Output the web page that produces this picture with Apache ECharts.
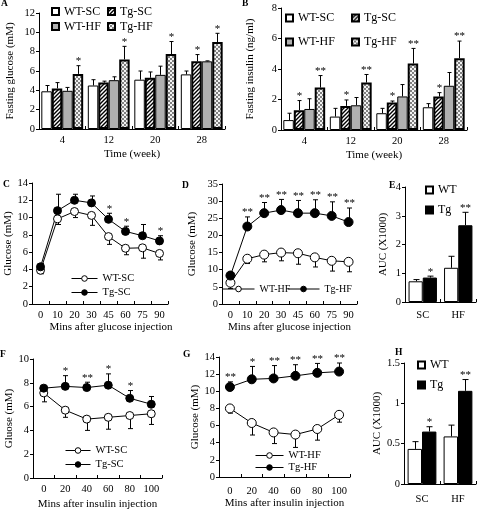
<!DOCTYPE html>
<html><head><meta charset="utf-8">
<script src="https://cdn.jsdelivr.net/npm/echarts@6/dist/echarts.min.js"></script>
<style>html,body{margin:0;padding:0;background:#fff}#c{width:477px;height:511px}</style>
</head><body><div id="c"></div>
<script>
// ---------- data ----------
const weeks = ['4','12','20','28'];
const A_WT_SC = [3.9, 4.5, 5.1, 5.65];   const A_WT_SC_err = [0.6, 0.6, 0.9, 0.35];
const A_Tg_SC = [4.2, 4.8, 5.3, 7.0];    const A_Tg_SC_err = [0.6, 0.15, 0.6, 0.7];
const A_WT_HF = [3.95, 5.05, 5.6, 7.0];  const A_WT_HF_err = [0.35, 0.35, 0.9, 0.05];
const A_Tg_HF = [5.7, 7.2, 7.75, 9.0];   const A_Tg_HF_err = [0.85, 1.35, 1.3, 0.9];
const A_Tg_SC_sig = ['', '', '', '*'];
const A_Tg_HF_sig = ['*', '*', '*', '*'];

const B_WT_SC = [0.65, 0.88, 1.1, 1.49]; const B_WT_SC_err = [0.45, 0.54, 0.32, 0.24];
const B_Tg_SC = [1.3, 1.58, 1.8, 2.19];  const B_Tg_SC_err = [0.63, 0.39, 0.1, 0.26];
const B_WT_HF = [1.38, 1.62, 2.2, 2.9];  const B_WT_HF_err = [0.67, 0.51, 0.78, 0.87];
const B_Tg_HF = [2.78, 3.11, 4.36, 4.71];const B_Tg_HF_err = [0.79, 0.53, 0.99, 1.12];
const B_Tg_SC_sig = ['*', '*', '*', '*'];
const B_Tg_HF_sig = ['**', '**', '**', '**'];

const gttMins = ['0','10','20','30','45','60','75','90'];
const C_WT_SC = [3.9, 9.85, 10.7, 10.25, 7.8, 6.45, 6.5, 5.85];
const C_WT_SC_err = [0.4, 0.65, 0.7, 1.15, 0.9, 0.75, 1.2, 0.75];
const C_Tg_SC = [4.3, 10.8, 12.0, 11.7, 9.8, 8.4, 7.9, 7.3];
const C_Tg_SC_err = [0.4, 1.9, 0.7, 0.8, 0.7, 0.6, 1.3, 0.6];
const C_sig = ['', '', '', '', '*', '*', '', '*'];

const D_WT_HF = [6.2, 13.2, 14.4, 15.0, 14.8, 13.6, 12.6, 12.3];
const D_WT_HF_err = [1.7, 1.4, 2.1, 2.4, 3.2, 2.8, 3.0, 2.9];
const D_Tg_HF = [8.3, 22.6, 26.5, 27.4, 26.5, 26.5, 25.7, 23.9];
const D_Tg_HF_err = [0.9, 2.8, 3.1, 3.1, 3.7, 3.9, 4.1, 4.1];
const D_sig = ['', '**', '**', '**', '**', '**', '**', '**'];

const dietCats = ['SC', 'HF'];
const E_WT = [0.72, 1.19]; const E_WT_err = [0.06, 0.4];
const E_Tg = [0.85, 2.67]; const E_Tg_err = [0.05, 0.45];
const E_sig = ['*', '**'];

const ittMins = ['0','20','40','60','80','100'];
const F_WT_SC = [7.15, 5.7, 4.95, 5.1, 5.25, 5.4];
const F_WT_SC_err = [0.75, 0.6, 0.95, 1.0, 1.1, 0.9];
const F_Tg_SC = [7.55, 7.7, 7.6, 7.8, 6.7, 6.2];
const F_Tg_SC_err = [0.1, 0.9, 0.45, 0.95, 0.65, 0.65];
const F_sig = ['', '*', '**', '*', '*', ''];

const G_WT_HF = [8.0, 6.3, 5.2, 4.95, 5.6, 7.25];
const G_WT_HF_err = [0.55, 1.4, 1.3, 1.5, 1.3, 0.85];
const G_Tg_HF = [10.5, 11.4, 11.5, 11.8, 12.15, 12.3];
const G_Tg_HF_err = [0.6, 1.5, 1.5, 1.3, 1.1, 1.0];
const G_sig = ['**', '*', '**', '**', '**', '**'];

const H_WT = [0.435, 0.59]; const H_WT_err = [0.09, 0.14];
const H_Tg = [0.65, 1.155]; const H_Tg_err = [0.06, 0.14];
const H_sig = ['*', '**'];

// ---------- styles ----------
const FONT = '"Liberation Serif", "Times New Roman", serif';
function makeHatch(){
  const c=document.createElement('canvas'); c.width=4; c.height=4;
  const g=c.getContext('2d'); g.fillStyle='#fff'; g.fillRect(0,0,4,4);
  g.strokeStyle='#000'; g.lineWidth=1.4; g.beginPath();
  g.moveTo(0,4); g.lineTo(4,0); g.moveTo(-1,1); g.lineTo(1,-1); g.moveTo(3,5); g.lineTo(5,3);
  g.stroke(); return c;
}
function makeChecker(){
  const c=document.createElement('canvas'); c.width=4; c.height=4;
  const g=c.getContext('2d'); g.fillStyle='#f2f2f2'; g.fillRect(0,0,4,4);
  g.fillStyle='#808080'; g.fillRect(0,0,2,2); g.fillRect(2,2,2,2); return c;
}
const hatch = {image: makeHatch(), repeat: 'repeat'};
const checker = {image: makeChecker(), repeat: 'repeat'};
const sWT_SC = {color:'#fff', borderColor:'#000', borderWidth:1};
const sTg_SC = {color:hatch, borderColor:'#000', borderWidth:2};
const sWT_HF = {color:'#b0b0b0', borderColor:'#000', borderWidth:1};
const sTg_HF = {color:checker, borderColor:'#000', borderWidth:2};
const sTg = {color:'#000', borderColor:'#000', borderWidth:1};

const GAP = 0.1, GAP2 = 0.2;

// ---------- builders ----------
function bar(name, gi, data, style, gap){
  return {type:'bar', name, xAxisIndex:gi, yAxisIndex:gi, data, itemStyle:style,
          barGap:'0%', barCategoryGap:(gap*100)+'%', z:2};
}
function err(gi, means, errs, sig, idx, n, gap, dir, cap, fs){
  return {type:'custom', xAxisIndex:gi, yAxisIndex:gi, z: dir>0 ? 3 : 1, silent:true,
    data: means.map((m,i)=>[i, m, m + dir*errs[i]]),
    renderItem: function(p, api){
      const i = api.value(0);
      const band = api.size([1,0])[0];
      let off = 0;
      if (n) { const bw = band*(1-gap)/n; off = -band*(1-gap)/2 + (idx+0.5)*bw; }
      const a = api.coord([i, api.value(1)]);
      const b = api.coord([i, api.value(2)]);
      const x = Math.round(a[0]+off)+0.5;
      const ch = [
        {type:'line', shape:{x1:x, y1:a[1], x2:x, y2:b[1]}, style:{stroke:'#000', lineWidth:1}},
        {type:'line', shape:{x1:x-cap/2, y1:b[1], x2:x+cap/2, y2:b[1]}, style:{stroke:'#000', lineWidth:1}}
      ];
      const s = sig && sig[p.dataIndex];
      if (s) ch.push({type:'text', style:{text:s, x:x, y:b[1]+1, align:'center', verticalAlign:'bottom',
                       font:(fs||11)+'px '+FONT, fill:'#000'}});
      return {type:'group', children:ch};
    }};
}
function line(name, gi, data, filled, size){
  return {type:'line', name, xAxisIndex:gi, yAxisIndex:gi, data, symbol:'circle', symbolSize:size,
    lineStyle:{color:'#000', width:1}, z:2,
    itemStyle: filled ? {color:'#000', borderColor:'#000', borderWidth:1}
                      : {color:'#fff', borderColor:'#000', borderWidth:1}};
}
function yA(gi, max, interval, name, gap){
  return {type:'value', gridIndex:gi, min:0, max, interval, name, nameLocation:'middle', nameGap:gap,
    nameRotate:90, nameTextStyle:{fontSize:11, fontFamily:FONT, color:'#000', fontWeight:'normal'},
    axisLine:{show:true, lineStyle:{color:'#000', width:1}},
    axisTick:{show:true, length:3, lineStyle:{color:'#000'}},
    splitLine:{show:false},
    axisLabel:{fontSize:10.5, fontFamily:FONT, color:'#000', margin:4, fontWeight:'normal'}};
}
function xA(gi, cats, name, gap, margin, pad){
  return {type:'category', gridIndex:gi, data:cats, name, nameLocation:'middle', nameGap:gap,
    nameTextStyle:{fontSize:11, fontFamily:FONT, color:'#000', fontWeight:'normal', padding:pad||0},
    axisLine:{show:true, lineStyle:{color:'#000', width:1}},
    axisTick:{show:true, inside:true, length:3, lineStyle:{color:'#000'}},
    splitLine:{show:false},
    axisLabel:{fontSize:10.5, fontFamily:FONT, color:'#000', margin, fontWeight:'normal'}};
}
function leg(name, left, top, iw, ih, fs, icon){
  const o = {data:[name], left, top, padding:0, itemWidth:iw, itemHeight:ih, itemGap:0,
    selectedMode:false, formatter: n => n.split('|')[1],
    textStyle:{fontSize:fs, fontFamily:FONT, color:'#000', fontWeight:'normal'}};
  if (icon) o.icon = icon;
  else { o.lineStyle = {width:1}; o.itemStyle = {borderWidth:1}; }
  return o;
}
function letter(t, x, y){
  return {type:'text', left:x, top:y, style:{text:t, font:'bold 9.5px '+FONT, fill:'#000'}};
}

const grids = [
  {left:39,  top:13,  width:186, height:116},  // A
  {left:281, top:8,   width:186, height:122},  // B
  {left:32,  top:183, width:136, height:121},  // C
  {left:222, top:184, width:135, height:120},  // D
  {left:405, top:187, width:71,  height:115},  // E
  {left:33,  top:359, width:129, height:119},  // F
  {left:219, top:357, width:131, height:120},  // G
  {left:404, top:363, width:72,  height:121}   // H
];

const option = {
  animation:false,
  backgroundColor:'#fff',
  textStyle:{fontFamily:FONT, color:'#000'},
  grid: grids,
  xAxis: [
    xA(0, weeks, 'Time (week)', 20, 6),
    xA(1, weeks, 'Time (week)', 20, 6),
    xA(2, gttMins, 'Mins after glucose injection', 18, 6, [0,0,0,22]),
    xA(3, gttMins, 'Mins after glucose injection', 18, 6),
    xA(4, dietCats, '', 0, 8),
    xA(5, ittMins, 'Mins after insulin injection', 21, 6),
    xA(6, ittMins, 'Mins after insulin injection', 21, 9),
    xA(7, dietCats, '', 0, 10)
  ],
  yAxis: [
    yA(0, 12, 2, 'Fasting glucose (mM)', 23),
    yA(1, 8, 2, 'Fasting insulin (ng/ml)', 25),
    yA(2, 14, 2, 'Glucose (mM)', 17),
    yA(3, 35, 5, 'Glucose (mM)', 24),
    yA(4, 4, 1, 'AUC (X1000)', 16),
    yA(5, 10, 2, 'Gluose (mM)', 18),
    yA(6, 14, 2, 'Glucose (mM)', 18),
    yA(7, 1.5, 0.5, 'AUC (X1000)', 15)
  ],
  legend: [
    leg('A|WT-SC', 51, 5.5, 7, 7, 12, 'rect'),
    leg('A|Tg-SC', 107, 5.5, 7, 7, 12, 'rect'),
    leg('A|WT-HF', 51, 20.5, 7, 7, 12, 'rect'),
    leg('A|Tg-HF', 107, 20.5, 7, 7, 12, 'rect'),
    leg('B|WT-SC', 285, 12, 7, 7, 12, 'rect'),
    leg('B|Tg-SC', 351, 12, 7, 7, 12, 'rect'),
    leg('B|WT-HF', 285, 36, 7, 7, 12, 'rect'),
    leg('B|Tg-HF', 351, 36, 7, 7, 12, 'rect'),
    leg('C|WT-SC', 71, 273, 26, 7, 10.5),
    leg('C|Tg-SC', 71, 287, 26, 7, 10.5),
    leg('D|WT-HF', 222, 284, 32, 7, 10),
    leg('D|Tg-HF', 287, 284, 32, 7, 10),
    leg('E|WT', 425, 184, 7, 7, 12, 'rect'),
    leg('E|Tg', 425, 204, 7, 7, 12, 'rect'),
    leg('F|WT-SC', 65, 445, 25, 7, 10.5),
    leg('F|Tg-SC', 65, 459, 25, 7, 10.5),
    leg('G|WT-HF', 255, 450, 28, 7, 10.5),
    leg('G|Tg-HF', 255, 462, 28, 7, 10.5),
    leg('H|WT', 417, 359, 7, 7, 12, 'rect'),
    leg('H|Tg', 417, 379, 7, 7, 12, 'rect')
  ],
  graphic: [
    letter('A', 1, -1), letter('B', 242, -1), letter('C', 3, 180), letter('D', 182, 181),
    letter('E', 389, 181), letter('F', 0, 350), letter('G', 183, 350), letter('H', 395, 348)
  ],
  series: [
    // A
    bar('A|WT-SC', 0, A_WT_SC, sWT_SC, GAP), bar('A|Tg-SC', 0, A_Tg_SC, sTg_SC, GAP),
    bar('A|WT-HF', 0, A_WT_HF, sWT_HF, GAP), bar('A|Tg-HF', 0, A_Tg_HF, sTg_HF, GAP),
    err(0, A_WT_SC, A_WT_SC_err, null, 0, 4, GAP, 1, 4),
    err(0, A_Tg_SC, A_Tg_SC_err, A_Tg_SC_sig, 1, 4, GAP, 1, 4),
    err(0, A_WT_HF, A_WT_HF_err, null, 2, 4, GAP, 1, 4),
    err(0, A_Tg_HF, A_Tg_HF_err, A_Tg_HF_sig, 3, 4, GAP, 1, 4),
    // B
    bar('B|WT-SC', 1, B_WT_SC, sWT_SC, GAP), bar('B|Tg-SC', 1, B_Tg_SC, sTg_SC, GAP),
    bar('B|WT-HF', 1, B_WT_HF, sWT_HF, GAP), bar('B|Tg-HF', 1, B_Tg_HF, sTg_HF, GAP),
    err(1, B_WT_SC, B_WT_SC_err, null, 0, 4, GAP, 1, 4),
    err(1, B_Tg_SC, B_Tg_SC_err, B_Tg_SC_sig, 1, 4, GAP, 1, 4),
    err(1, B_WT_HF, B_WT_HF_err, null, 2, 4, GAP, 1, 4),
    err(1, B_Tg_HF, B_Tg_HF_err, B_Tg_HF_sig, 3, 4, GAP, 1, 4),
    // C
    err(2, C_WT_SC, C_WT_SC_err, null, 0, 0, 0, -1, 5),
    err(2, C_Tg_SC, C_Tg_SC_err, C_sig, 0, 0, 0, 1, 5),
    line('C|WT-SC', 2, C_WT_SC, false, 8), line('C|Tg-SC', 2, C_Tg_SC, true, 8),
    // D
    err(3, D_WT_HF, D_WT_HF_err, null, 0, 0, 0, -1, 5),
    err(3, D_Tg_HF, D_Tg_HF_err, D_sig, 0, 0, 0, 1, 5),
    line('D|WT-HF', 3, D_WT_HF, false, 9), line('D|Tg-HF', 3, D_Tg_HF, true, 9),
    // E
    bar('E|WT', 4, E_WT, sWT_SC, GAP2), bar('E|Tg', 4, E_Tg, sTg, GAP2),
    err(4, E_WT, E_WT_err, null, 0, 2, GAP2, 1, 6),
    err(4, E_Tg, E_Tg_err, E_sig, 1, 2, GAP2, 1, 6),
    // F
    err(5, F_WT_SC, F_WT_SC_err, null, 0, 0, 0, -1, 5),
    err(5, F_Tg_SC, F_Tg_SC_err, F_sig, 0, 0, 0, 1, 5),
    line('F|WT-SC', 5, F_WT_SC, false, 8), line('F|Tg-SC', 5, F_Tg_SC, true, 8),
    // G
    err(6, G_WT_HF, G_WT_HF_err, null, 0, 0, 0, -1, 5),
    err(6, G_Tg_HF, G_Tg_HF_err, G_sig, 0, 0, 0, 1, 5),
    line('G|WT-HF', 6, G_WT_HF, false, 9), line('G|Tg-HF', 6, G_Tg_HF, true, 9),
    // H
    bar('H|WT', 7, H_WT, sWT_SC, GAP2), bar('H|Tg', 7, H_Tg, sTg, GAP2),
    err(7, H_WT, H_WT_err, null, 0, 2, GAP2, 1, 6),
    err(7, H_Tg, H_Tg_err, H_sig, 1, 2, GAP2, 1, 6)
  ]
};
const chart = echarts.init(document.getElementById('c'), null, {renderer:'canvas'});
chart.setOption(option);
</script>
</body></html>
